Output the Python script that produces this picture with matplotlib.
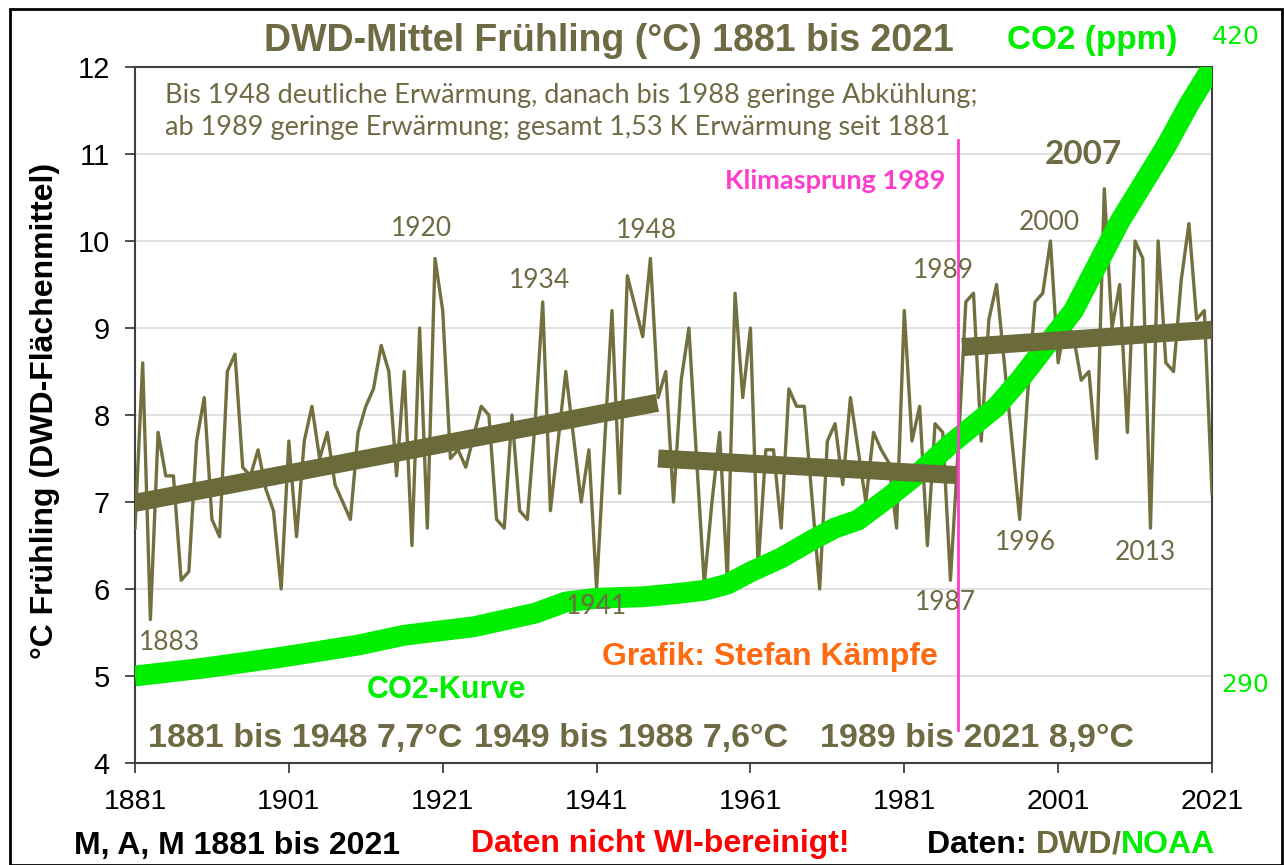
import numpy as np
import matplotlib
matplotlib.use('Agg')
import matplotlib.pyplot as plt
from matplotlib.patches import Rectangle

# Daten: DWD-Frühlingsmittel (°C) 1881 bis 2021
years = list(range(1881, 2022))
temps = [
    6.7, 8.6, 5.65, 7.8, 7.3, 7.3, 6.1, 6.2, 7.7, 8.2,          # 1881-1890
    6.8, 6.6, 8.5, 8.7, 7.4, 7.3, 7.6, 7.15, 6.9, 6.0,          # 1891-1900
    7.7, 6.6, 7.7, 8.1, 7.5, 7.8, 7.2, 7.0, 6.8, 7.8,           # 1901-1910
    8.1, 8.3, 8.8, 8.5, 7.3, 8.5, 6.5, 9.0, 6.7, 9.8,           # 1911-1920
    9.2, 7.5, 7.6, 7.4, 7.75, 8.1, 8.0, 6.8, 6.7, 8.0,          # 1921-1930
    6.9, 6.8, 7.9, 9.3, 6.9, 7.7, 8.5, 7.75, 7.0, 7.6,          # 1931-1940
    6.0, 7.6, 9.2, 7.1, 9.6, 9.25, 8.9, 9.8, 8.2, 8.5,          # 1941-1950
    7.0, 8.4, 9.0, 7.5, 6.05, 7.0, 7.8, 6.1, 9.4, 8.2,          # 1951-1960
    9.0, 6.25, 7.6, 7.6, 6.7, 8.3, 8.1, 8.1, 7.05, 6.0,         # 1961-1970
    7.7, 7.9, 7.2, 8.2, 7.6, 7.0, 7.8, 7.6, 7.45, 6.7,          # 1971-1980
    9.2, 7.7, 8.1, 6.5, 7.9, 7.8, 6.1, 7.6, 9.3, 9.4,           # 1981-1990
    7.7, 9.1, 9.5, 8.6, 7.7, 6.8, 8.2, 9.3, 9.4, 10.0,          # 1991-2000
    8.6, 9.1, 8.9, 8.4, 8.5, 7.5, 10.6, 9.0, 9.5, 7.8,          # 2001-2010
    10.0, 9.8, 6.7, 10.0, 8.6, 8.5, 9.55, 10.2, 9.1, 9.2,       # 2011-2020
    7.1,                                                        # 2021
]

# Trendlinien (Anfangsjahr, Endjahr, Anfangswert, Endwert)
trend_years = [(1881, 1948.9), (1949, 1987.7), (1988.5, 2021)]
trend_vals = [(6.99, 8.14), (7.50, 7.31), (8.78, 8.98)]

# CO2 (ppm)
co2_years = [1881, 1890, 1900, 1910, 1916, 1925, 1933, 1937, 1941, 1947,
             1952, 1955, 1958, 1961, 1965, 1969, 1972, 1975, 1979, 1983,
             1987, 1990, 1993, 1996, 2000, 2003, 2006, 2009, 2012, 2015,
             2018, 2021]
co2_vals = [290, 291.7, 294, 296.6, 298.7, 300.5, 303.4, 305.8, 306.6, 306.9,
            307.7, 308.3, 309.6, 312.2, 315.2, 319, 321.6, 323.3, 328.2, 333.5,
            339.5, 343.5, 347.5, 353.2, 361.7, 368, 377.5, 387, 395, 403,
            412, 420]

# Mittelwerte der Zeitabschnitte
period_texts = ['1881 bis 1948 7,7°C', '1949 bis 1988 7,6°C', '1989 bis 2021 8,9°C']
period_x = [148, 474, 820]

# Beschriftete Jahre
label_years = ['1883', '1920', '1934', '1948', '1941', '1989', '1987', '1996', '2000', '2013']
label_pos = [(169, 643), (421, 228), (540, 281), (646, 230), (596, 607),
             (943, 271), (945, 602), (1025, 543), (1049, 222), (1145, 553)]

OLIVE = '#6b6a3a'
LINE_OLIVE = '#73703f'
TXT_OLIVE = '#6e6b44'
GREEN = '#00ee00'
MAGENTA = '#ff3dcc'
W, H = 1284, 865
SANS = ['Liberation Sans', 'DejaVu Sans']
CAL = ['Lato', 'DejaVu Sans']


def px(x, y):
    # Pixelposition -> Figurkoordinaten
    return x / W, 1 - y / H


fig = plt.figure(figsize=(12.84, 8.65), dpi=100)
fig.patches.append(Rectangle((10 / W, 0), 1 - 12 / W, 1 - 9 / H, transform=fig.transFigure,
                             fill=False, edgecolor='black', lw=2))

ax = fig.add_axes([135 / W, 1 - 763 / H, (1212 - 135) / W, (763 - 67) / H])
ax.set_xlim(1881, 2021)
ax.set_ylim(4, 12)
ax.set_xticks(range(1881, 2022, 20))
ax.set_yticks(range(4, 13))
for lbl in ax.get_xticklabels():
    lbl.set_family(SANS)
    lbl.set_fontsize(20.5)
for lbl in ax.get_yticklabels():
    lbl.set_family(SANS)
    lbl.set_fontsize(21)
ax.tick_params(axis='both', direction='out', length=7, width=1.3, color='#404040')
ax.tick_params(axis='x', pad=12)
ax.tick_params(axis='y', pad=11)
for s in ax.spines.values():
    s.set_color('#404040')
    s.set_linewidth(1.5)
for v in range(5, 12):
    ax.axhline(v, color='#dcdcdc', lw=1.2, zorder=1)

# Zweite Skala für CO2: 290 ppm = 5 °C, 420 ppm = 12 °C
ax2 = ax.twinx()
ax2.set_ylim(290 - 130 / 7, 420)
ax2.set_yticks([])
for s in ax2.spines.values():
    s.set_visible(False)

ax.plot(years, temps, color=LINE_OLIVE, lw=2.4, zorder=3)
ax.plot(co2_years, co2_vals, color=GREEN, lw=15, solid_capstyle='butt',
        solid_joinstyle='round', transform=ax2.transData, zorder=3.5)
for (x0, x1), (v0, v1) in zip(trend_years, trend_vals):
    ax.plot([x0, x1], [v0, v1], color=OLIVE, lw=13, solid_capstyle='butt', zorder=4)

ax.plot([1988, 1988], [4.38, 11.16], color=MAGENTA, lw=2, zorder=5)

# Texte
fig.text(*px(609, 41), 'DWD-Mittel Frühling (°C) 1881 bis 2021', family=SANS, weight='bold',
         fontsize=27, color=TXT_OLIVE, ha='center', va='center')
fig.text(*px(1092, 40), 'CO2 (ppm)', family=SANS, weight='bold', fontsize=24,
         color=GREEN, ha='center', va='center')
fig.text(*px(1236, 37), '420', family='DejaVu Sans', fontsize=18, color=GREEN,
         ha='center', va='center')
fig.text(*px(1245, 685), '290', family='DejaVu Sans', fontsize=18, color=GREEN,
         ha='center', va='center')
fig.text(*px(45, 411), '°C Frühling (DWD-Flächenmittel)', family=SANS, weight='bold',
         fontsize=23, rotation=90, ha='center', va='center')

fig.text(*px(165, 95), 'Bis 1948 deutliche Erwärmung, danach bis 1988 geringe Abkühlung;',
         family=CAL, fontsize=19.5, color=TXT_OLIVE, ha='left', va='center')
fig.text(*px(165, 128), 'ab 1989 geringe Erwärmung; gesamt 1,53 K Erwärmung seit 1881',
         family=CAL, fontsize=19.5, color=TXT_OLIVE, ha='left', va='center')

for t, (x, y) in zip(label_years, label_pos):
    fig.text(*px(x, y), t, family=CAL, fontsize=19, color=TXT_OLIVE, ha='center', va='center')
fig.text(*px(1083, 155), '2007', family=CAL, weight='bold', fontsize=24, color=TXT_OLIVE,
         ha='center', va='center')
fig.text(*px(835, 181), 'Klimasprung 1989', family=CAL, weight='bold', fontsize=19.5,
         color=MAGENTA, ha='center', va='center')
fig.text(*px(770, 657), 'Grafik: Stefan Kämpfe', family=SANS, weight='bold', fontsize=23,
         color='#ff6a10', ha='center', va='center')
fig.text(*px(446, 690), 'CO2-Kurve', family=SANS, weight='bold', fontsize=22,
         color=GREEN, ha='center', va='center')
for t, x in zip(period_texts, period_x):
    fig.text(*px(x, 738), t, family=SANS, weight='bold', fontsize=24.5,
             color=TXT_OLIVE, ha='left', va='center')

fig.text(*px(74, 846), 'M, A, M 1881 bis 2021', family=SANS, weight='bold', fontsize=23,
         color='black', ha='left', va='center')
fig.text(*px(660, 844), 'Daten nicht WI-bereinigt!', family=SANS, weight='bold', fontsize=23,
         color='red', ha='center', va='center')

# "Daten: DWD/NOAA" in mehreren Farben hintereinander
fig.canvas.draw()
renderer = fig.canvas.get_renderer()
x_cur = 927
for part, col in [('Daten: ', 'black'), ('DWD', OLIVE), ('/', OLIVE), ('NOAA', GREEN)]:
    t = fig.text(*px(x_cur, 845), part, family=SANS, weight='bold', fontsize=23,
                 color=col, ha='left', va='center')
    bb = t.get_window_extent(renderer)
    x_cur += bb.width

fig.savefig('out.png', dpi=100)
